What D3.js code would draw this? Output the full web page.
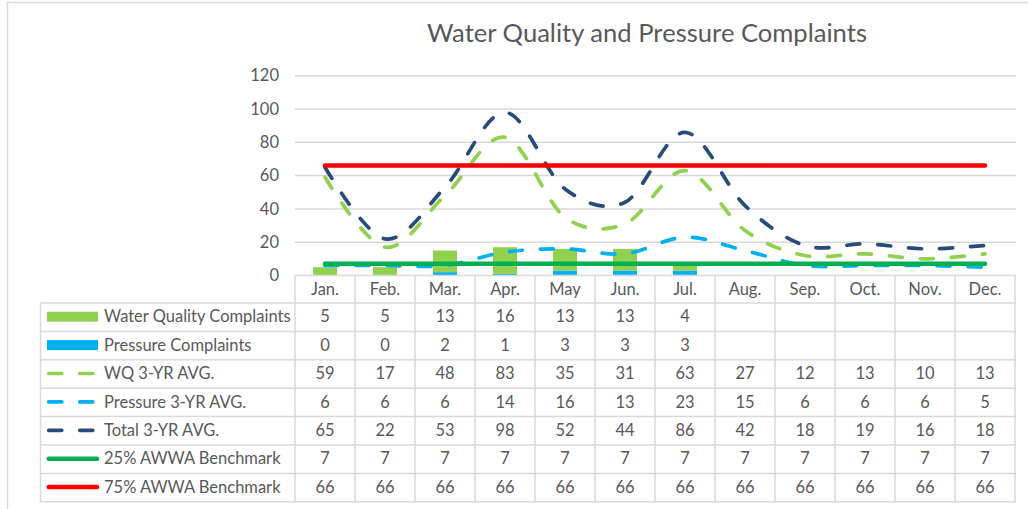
<!DOCTYPE html>
<html>
<head>
<meta charset="utf-8">
<script src="https://cdn.jsdelivr.net/npm/d3@7"></script>
<style>
  body { margin: 0; background: #fff; }
  svg text { font-family: Lato, "Open Sans", sans-serif; fill: #595959; }
</style>
</head>
<body>
<div id="chart"></div>
<script>
// chart data
const months = ['Jan.', 'Feb.', 'Mar.', 'Apr.', 'May', 'Jun.', 'Jul.', 'Aug.', 'Sep.', 'Oct.', 'Nov.', 'Dec.'];
const wqComplaints = [5, 5, 13, 16, 13, 13, 4, null, null, null, null, null];
const pressureComplaints = [0, 0, 2, 1, 3, 3, 3, null, null, null, null, null];
const wqAvg = [59, 17, 48, 83, 35, 31, 63, 27, 12, 13, 10, 13];
const pressureAvg = [6, 6, 6, 14, 16, 13, 23, 15, 6, 6, 6, 5];
const totalAvg = [65, 22, 53, 98, 52, 44, 86, 42, 18, 19, 16, 18];
const bench25 = [7, 7, 7, 7, 7, 7, 7, 7, 7, 7, 7, 7];
const bench75 = [66, 66, 66, 66, 66, 66, 66, 66, 66, 66, 66, 66];
const yTicks = [0, 20, 40, 60, 80, 100, 120];

const W = 1028, H = 509;
const plotLeft = 295, plotRight = 1015, plotTop = 75.7, plotBottom = 275.5;
const rowH = 28.4, tableTop = 303, legendLeft = 40.5;

// series rows of the table, in legend order
const rows = [
	{ name: 'Water Quality Complaints', values: wqComplaints, color: '#92D050', kind: 'bar' },
	{ name: 'Pressure Complaints', values: pressureComplaints, color: '#00B0F0', kind: 'bar' },
	{ name: 'WQ 3-YR AVG.', values: wqAvg, color: '#92D050', kind: 'dash' },
	{ name: 'Pressure 3-YR AVG.', values: pressureAvg, color: '#00B0F0', kind: 'dash' },
	{ name: 'Total 3-YR AVG.', values: totalAvg, color: '#284B7A', kind: 'dash' },
	{ name: '25% AWWA Benchmark', values: bench25, color: '#00B050', kind: 'line' },
	{ name: '75% AWWA Benchmark', values: bench75, color: '#FF0000', kind: 'line' }
];

const x = d3.scaleBand().domain(months).range([plotLeft, plotRight]);
const y = d3.scaleLinear().domain([0, 120]).range([plotBottom, plotTop]);
const barW = 24;

const svg = d3.select('#chart').append('svg')
	.attr('width', W)
	.attr('height', H);

// chart area border
svg.append('rect')
	.attr('x', 7.5).attr('y', 2.5)
	.attr('width', W + 20).attr('height', H + 20)
	.attr('fill', '#fff')
	.attr('stroke', '#d9d9d9')
	.attr('stroke-width', 1.5);

svg.append('text')
	.attr('x', 647).attr('y', 42)
	.attr('text-anchor', 'middle')
	.style('font-size', '25.6px')
	.text('Water Quality and Pressure Complaints');

// gridlines + y labels
const yAxis = d3.axisLeft(y).tickValues(yTicks).tickSize(0).tickPadding(16);
const gy = svg.append('g').attr('transform', `translate(${plotLeft},0)`).call(yAxis);
gy.select('.domain').remove();
gy.selectAll('text').style('font-size', '16.5px').style('font-family', null);
svg.append('g').selectAll('line')
	.data(yTicks.filter(d => d > 0))
	.join('line')
	.attr('x1', plotLeft).attr('x2', plotRight + 1)
	.attr('y1', d => y(d)).attr('y2', d => y(d))
	.attr('stroke', '#d9d9d9')
	.attr('stroke-width', 1.5);

// stacked bars, pressure at the bottom
const barData = months.map((m, i) => ({ month: m, pressure: pressureComplaints[i] || 0, wq: wqComplaints[i] || 0 }));
const stack = d3.stack().keys(['pressure', 'wq'])(barData);
const barColors = { pressure: '#00B0F0', wq: '#92D050' };
svg.append('g').selectAll('g')
	.data(stack)
	.join('g')
	.attr('fill', d => barColors[d.key])
	.selectAll('rect')
	.data(d => d)
	.join('rect')
	.attr('x', d => x(d.data.month) + (x.bandwidth() - barW) / 2)
	.attr('width', barW)
	.attr('y', d => y(d[1]))
	.attr('height', d => y(d[0]) - y(d[1]));

// lines
const cx = (d, i) => x(months[i]) + x.bandwidth() / 2;
const smooth = d3.line().x(cx).y(d => y(d)).curve(d3.curveCardinal.tension(0));
const straight = d3.line().x(cx).y(d => y(d));

rows.filter(r => r.kind !== 'bar').forEach(r => {
	svg.append('path')
		.datum(r.values)
		.attr('d', r.kind === 'dash' ? smooth : straight)
		.attr('fill', 'none')
		.attr('stroke', r.color)
		.attr('stroke-width', r.kind === 'dash' ? 3.7 : 4.5)
		.attr('stroke-linecap', 'round')
		.attr('stroke-dasharray', r.kind === 'dash' ? '13 18' : null);
});

// data table
const grid = svg.append('g').attr('stroke', '#d9d9d9').attr('stroke-width', 1.5);
grid.append('line').attr('x1', plotLeft).attr('x2', plotRight + 1).attr('y1', plotBottom).attr('y2', plotBottom);
d3.range(rows.length + 1).forEach(k => {
	grid.append('line')
		.attr('x1', legendLeft).attr('x2', plotRight + 1)
		.attr('y1', tableTop + k * rowH).attr('y2', tableTop + k * rowH);
});
grid.append('line').attr('x1', legendLeft).attr('x2', legendLeft).attr('y1', tableTop).attr('y2', tableTop + rows.length * rowH);
months.concat(['end']).forEach((m, i) => {
	const xx = plotLeft + i * x.bandwidth();
	grid.append('line').attr('x1', xx).attr('x2', xx).attr('y1', plotBottom).attr('y2', tableTop + rows.length * rowH);
});

// month header
svg.append('g').selectAll('text')
	.data(months)
	.join('text')
	.attr('x', d => x(d) + x.bandwidth() / 2)
	.attr('y', (plotBottom + tableTop) / 2 - 0.5)
	.attr('dy', '0.35em')
	.attr('text-anchor', 'middle')
	.style('font-size', '16.5px')
	.text(d => d);

rows.forEach((r, k) => {
	const cy = tableTop + k * rowH + rowH / 2 - 0.5;
	const g = svg.append('g');
	if (r.kind === 'bar') {
		g.append('rect').attr('x', 47).attr('y', cy - 5).attr('width', 51).attr('height', 10).attr('fill', r.color);
	} else {
		g.append('line')
			.attr('x1', 48.75).attr('x2', r.kind === 'dash' ? 93.5 : 97)
			.attr('y1', cy).attr('y2', cy)
			.attr('stroke', r.color)
			.attr('stroke-width', r.kind === 'dash' ? 3.7 : 4.5)
			.attr('stroke-linecap', 'round')
			.attr('stroke-dasharray', r.kind === 'dash' ? '13 18' : null);
	}
	g.append('text')
		.attr('x', 104).attr('y', cy).attr('dy', '0.35em')
		.style('font-size', '16.5px')
		.text(r.name);
	g.selectAll('text.val')
		.data(r.values)
		.join('text')
		.attr('class', 'val')
		.attr('x', (d, i) => x(months[i]) + x.bandwidth() / 2)
		.attr('y', cy).attr('dy', '0.35em')
		.attr('text-anchor', 'middle')
		.style('font-size', '16.5px')
		.text(d => d == null ? '' : d);
});
</script>
</body>
</html>
